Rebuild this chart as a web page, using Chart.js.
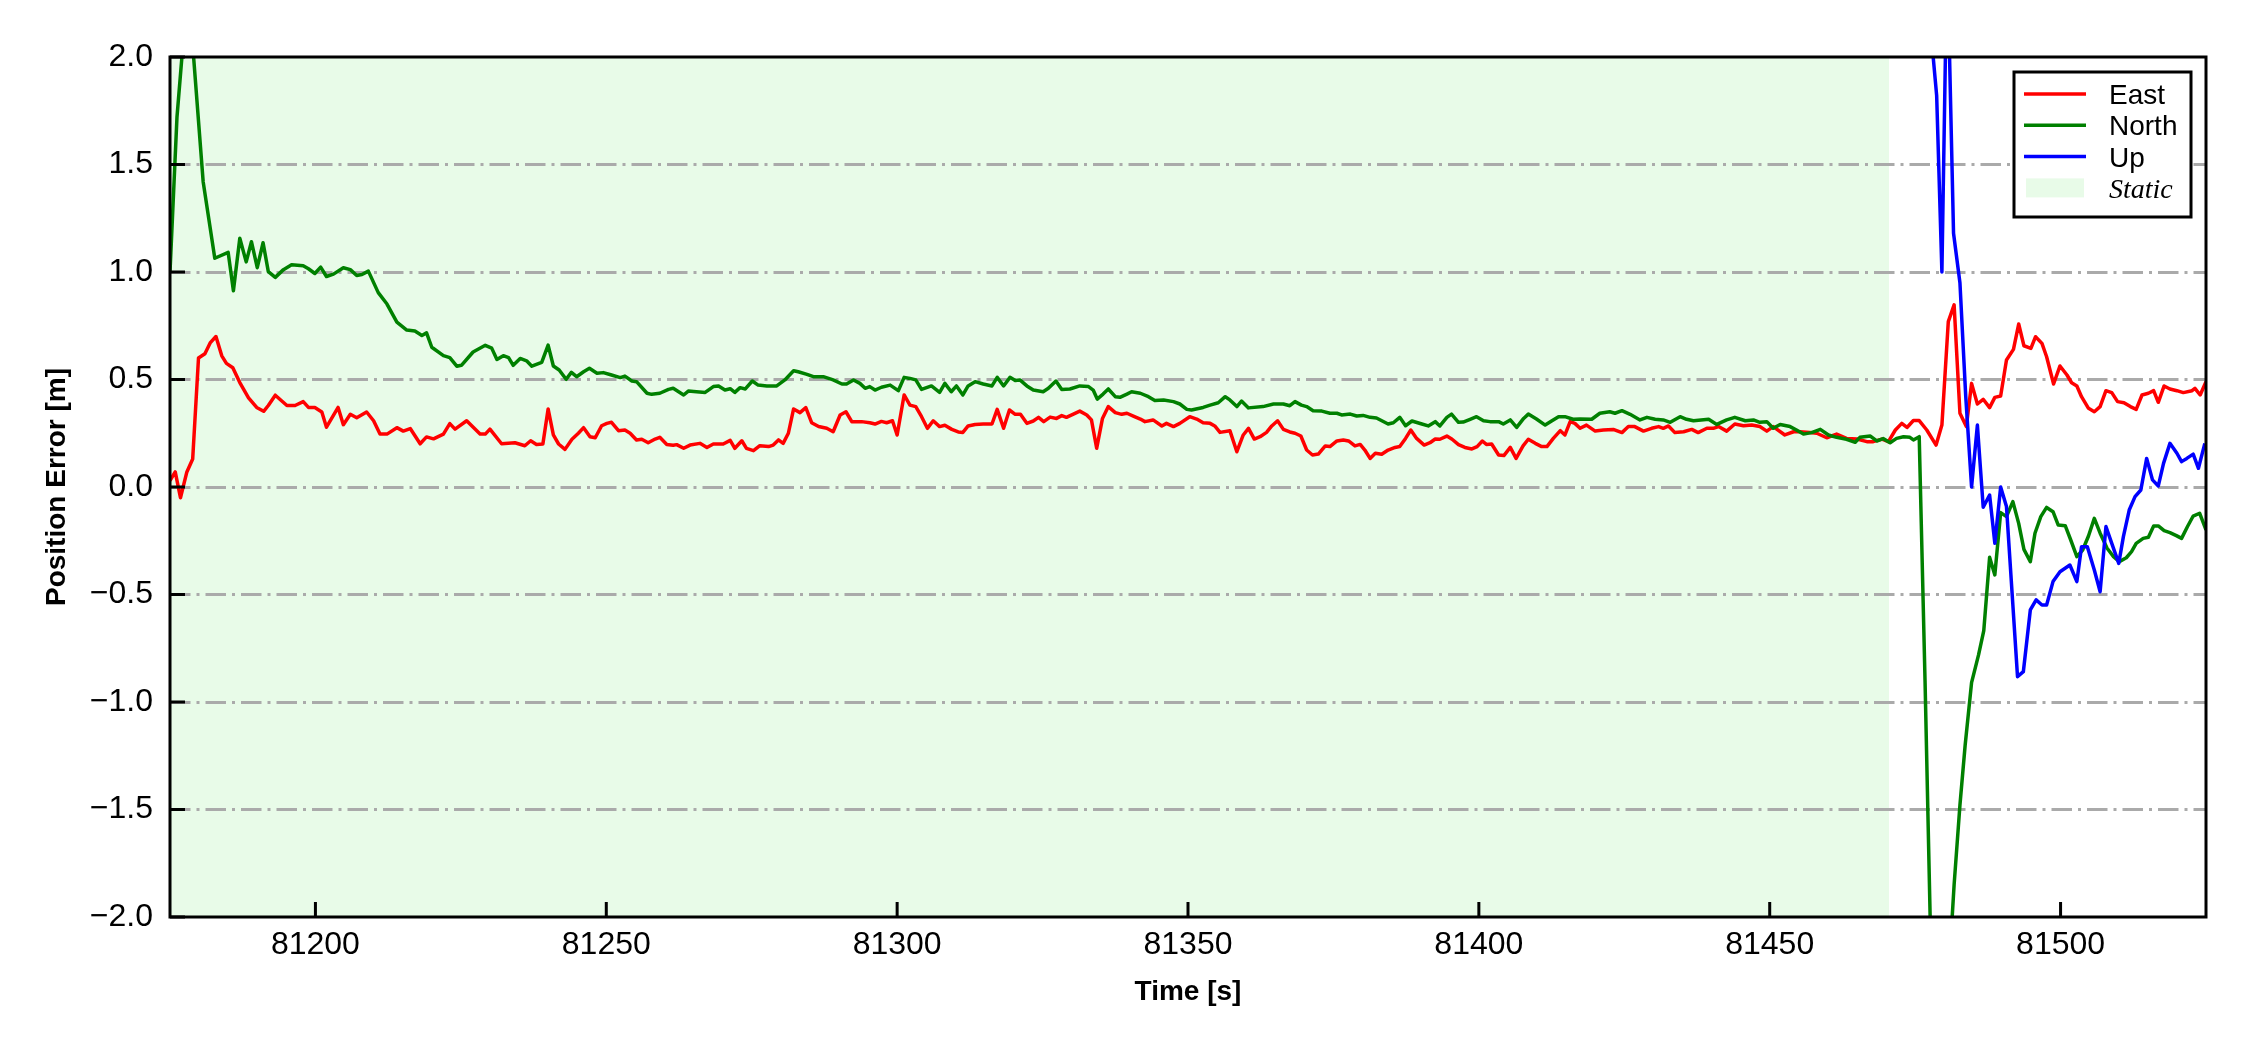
<!DOCTYPE html>
<html>
<head>
<meta charset="utf-8">
<script src="https://cdn.jsdelivr.net/npm/chart.js@4.4.1/dist/chart.umd.min.js"></script>
<style>
  html, body { margin: 0; padding: 0; background: #fff; }
  canvas { display: block; }
</style>
</head>
<body>
<canvas id="errorChart" width="2250" height="1050"></canvas>
<script>
// position error per axis (time in s, error in m)
const eastTime = [
  81175.0, 81175.9, 81176.8, 81177.9, 81178.9, 81179.9, 81181.0, 81181.9, 81182.9, 81183.9,
  81184.7, 81185.8, 81187.0, 81188.5, 81189.9, 81191.1, 81191.9, 81193.1, 81195.1, 81196.5,
  81197.9, 81198.8, 81199.9, 81201.1, 81201.9, 81203.9, 81204.8, 81206.0, 81207.1, 81208.8,
  81210.0, 81211.1, 81212.3, 81214.0, 81215.1, 81216.3, 81218.0, 81219.1, 81220.3, 81222.0,
  81223.1, 81224.0, 81226.0, 81228.3, 81229.2, 81230.0, 81232.0, 81234.3, 81236.0, 81237.0,
  81238.0, 81239.1, 81240.0, 81240.9, 81241.8, 81242.9, 81244.1, 81245.2, 81246.1, 81247.2,
  81248.1, 81249.2, 81250.1, 81250.9, 81252.1, 81253.2, 81254.1, 81255.2, 81256.1, 81257.2,
  81258.4, 81259.2, 81260.4, 81261.5, 81262.1, 81263.3, 81264.4, 81266.1, 81267.3, 81268.4,
  81270.1, 81271.3, 81272.1, 81273.3, 81274.1, 81275.3, 81276.4, 81277.9, 81278.7, 81279.6,
  81280.4, 81281.3, 81282.2, 81283.3, 81284.3, 81285.3, 81286.5, 81287.9, 81289.0, 81290.2,
  81291.2, 81292.2, 81293.9, 81295.3, 81296.2, 81297.3, 81298.2, 81299.2, 81300.0, 81301.2,
  81302.2, 81303.2, 81304.2, 81305.2, 81306.2, 81307.3, 81308.2, 81309.4, 81310.5, 81311.3,
  81312.2, 81313.4, 81314.8, 81316.3, 81317.2, 81318.3, 81319.3, 81320.3, 81321.2, 81322.3,
  81323.4, 81324.3, 81325.2, 81326.3, 81327.4, 81328.3, 81329.1, 81330.3, 81331.4, 81332.6,
  81333.4, 81334.3, 81335.3, 81336.3, 81337.5, 81338.6, 81339.5, 81340.6, 81341.8, 81342.6,
  81344.0, 81345.5, 81346.3, 81347.5, 81348.6, 81350.3, 81351.5, 81352.6, 81353.8, 81354.6,
  81355.5, 81357.2, 81358.4, 81359.5, 81360.4, 81361.4, 81362.4, 81363.5, 81364.4, 81365.4,
  81366.4, 81367.5, 81368.4, 81369.4, 81370.4, 81371.4, 81372.4, 81373.6, 81374.4, 81375.6,
  81376.7, 81377.6, 81378.7, 81379.6, 81380.4, 81381.3, 81382.2, 81383.3, 81384.4, 81385.6,
  81386.4, 81387.4, 81388.3, 81389.3, 81390.6, 81391.6, 81392.5, 81393.3, 81394.5, 81395.4,
  81396.5, 81397.6, 81398.8, 81399.7, 81400.6, 81401.3, 81402.2, 81403.4, 81404.3, 81405.4,
  81406.4, 81407.6, 81408.5, 81409.7, 81410.8, 81411.7, 81412.8, 81414.0, 81414.8, 81415.7,
  81416.5, 81417.4, 81418.5, 81420.0, 81421.4, 81423.1, 81424.6, 81425.7, 81426.8, 81428.3,
  81429.7, 81430.9, 81431.7, 81432.6, 81433.7, 81435.2, 81436.6, 81437.7, 81439.2, 81440.3,
  81441.2, 81442.6, 81444.0, 81445.5, 81446.9, 81448.3, 81449.5, 81450.6, 81452.6, 81454.1,
  81455.2, 81456.9, 81458.1, 81459.8, 81461.5, 81463.2, 81465.0, 81466.7, 81467.8, 81469.3,
  81470.4, 81471.6, 81472.7, 81473.6, 81474.7, 81475.7, 81477.0, 81478.6, 81479.6, 81480.7,
  81481.7, 81482.7, 81483.8, 81484.7, 81485.7, 81486.7, 81487.8, 81488.7, 81489.7, 81490.7,
  81491.9, 81492.8, 81493.7, 81494.9, 81495.7, 81496.8, 81497.6, 81498.8, 81499.9, 81501.1,
  81501.9, 81502.8, 81503.6, 81504.8, 81505.8, 81506.8, 81507.8, 81508.8, 81509.8, 81510.9,
  81512.0, 81513.0, 81514.0, 81515.1, 81516.0, 81516.8, 81517.8, 81518.8, 81520.0, 81521.1,
  81522.6, 81523.1, 81524.0, 81525.0
];
const eastError = [
  0.03, 0.07, -0.05, 0.07, 0.13, 0.60, 0.62, 0.67, 0.70, 0.61,
  0.575, 0.555, 0.486, 0.415, 0.370, 0.352, 0.379, 0.427, 0.379, 0.379,
  0.397, 0.370, 0.370, 0.349, 0.278, 0.370, 0.290, 0.338, 0.322, 0.349,
  0.308, 0.246, 0.246, 0.276, 0.260, 0.272, 0.201, 0.233, 0.224, 0.246,
  0.295, 0.269, 0.308, 0.246, 0.246, 0.269, 0.201, 0.206, 0.192, 0.215,
  0.198, 0.200, 0.363, 0.242, 0.200, 0.175, 0.222, 0.250, 0.276, 0.234,
  0.229, 0.285, 0.296, 0.301, 0.262, 0.265, 0.250, 0.219, 0.222, 0.206,
  0.223, 0.231, 0.198, 0.194, 0.197, 0.180, 0.195, 0.203, 0.184, 0.200,
  0.200, 0.217, 0.180, 0.215, 0.180, 0.169, 0.192, 0.188, 0.195, 0.219,
  0.203, 0.250, 0.363, 0.346, 0.369, 0.299, 0.281, 0.273, 0.257, 0.335,
  0.350, 0.304, 0.304, 0.299, 0.293, 0.305, 0.299, 0.308, 0.242, 0.428,
  0.381, 0.374, 0.327, 0.273, 0.308, 0.281, 0.287, 0.268, 0.256, 0.254,
  0.284, 0.291, 0.293, 0.293, 0.361, 0.273, 0.358, 0.338, 0.338, 0.296,
  0.307, 0.324, 0.304, 0.325, 0.319, 0.332, 0.324, 0.339, 0.353, 0.335,
  0.312, 0.180, 0.319, 0.374, 0.346, 0.338, 0.343, 0.330, 0.316, 0.304,
  0.312, 0.284, 0.296, 0.281, 0.296, 0.327, 0.316, 0.299, 0.296, 0.284,
  0.254, 0.262, 0.164, 0.242, 0.273, 0.223, 0.234, 0.254, 0.284, 0.308,
  0.268, 0.256, 0.250, 0.237, 0.172, 0.149, 0.153, 0.191, 0.188, 0.214,
  0.219, 0.214, 0.191, 0.198, 0.172, 0.133, 0.157, 0.152, 0.172, 0.184,
  0.188, 0.226, 0.265, 0.226, 0.195, 0.206, 0.223, 0.222, 0.237, 0.222,
  0.197, 0.184, 0.177, 0.188, 0.214, 0.198, 0.200, 0.149, 0.146, 0.184,
  0.133, 0.191, 0.222, 0.203, 0.188, 0.188, 0.226, 0.262, 0.242, 0.304,
  0.296, 0.273, 0.288, 0.260, 0.265, 0.268, 0.253, 0.281, 0.281, 0.260,
  0.273, 0.281, 0.273, 0.284, 0.253, 0.257, 0.268, 0.253, 0.273, 0.273,
  0.281, 0.260, 0.293, 0.285, 0.288, 0.281, 0.260, 0.281, 0.242, 0.257,
  0.257, 0.254, 0.250, 0.229, 0.246, 0.226, 0.223, 0.211, 0.211, 0.223,
  0.211, 0.265, 0.296, 0.277, 0.309, 0.309, 0.265, 0.195, 0.288, 0.769,
  0.847, 0.343, 0.281, 0.482, 0.386, 0.408, 0.369, 0.417, 0.423, 0.591,
  0.640, 0.758, 0.657, 0.645, 0.699, 0.668, 0.606, 0.479, 0.563, 0.521,
  0.485, 0.470, 0.420, 0.366, 0.350, 0.374, 0.448, 0.439, 0.397, 0.392,
  0.374, 0.361, 0.428, 0.436, 0.448, 0.394, 0.470, 0.456, 0.448, 0.439,
  0.448, 0.459, 0.428, 0.490
];

const northTime = [
  81175.0, 81176.2, 81177.2, 81178.2, 81179.0, 81180.7, 81182.7, 81185.0, 81185.9, 81187.0,
  81188.1, 81189.0, 81190.0, 81191.0, 81191.9, 81193.1, 81194.5, 81195.9, 81197.9, 81198.8,
  81199.9, 81200.9, 81201.9, 81203.1, 81204.8, 81206.0, 81207.1, 81208.0, 81209.1, 81210.8,
  81212.3, 81214.0, 81215.7, 81217.1, 81218.3, 81219.1, 81220.0, 81222.0, 81223.1, 81224.3,
  81225.1, 81227.1, 81229.2, 81230.3, 81231.2, 81232.3, 81233.2, 81234.0, 81235.2, 81236.3,
  81237.2, 81238.9, 81240.0, 81240.9, 81241.9, 81243.1, 81244.0, 81244.9, 81246.1, 81247.1,
  81248.4, 81249.5, 81250.9, 81252.4, 81253.2, 81254.4, 81255.2, 81257.0, 81257.8, 81259.2,
  81260.7, 81261.5, 81263.3, 81264.1, 81265.5, 81267.0, 81268.4, 81269.3, 81270.4, 81271.3,
  81272.1, 81273.0, 81273.9, 81275.1, 81276.1, 81277.6, 81279.3, 81280.7, 81282.2, 81283.0,
  81284.5, 81285.6, 81287.3, 81289.0, 81290.5, 81291.3, 81292.5, 81293.6, 81294.5, 81295.3,
  81296.2, 81297.3, 81298.8, 81300.2, 81301.2, 81302.2, 81303.2, 81304.2, 81305.9, 81307.3,
  81308.2, 81309.3, 81310.2, 81311.3, 81312.2, 81313.4, 81314.8, 81316.3, 81317.2, 81318.3,
  81319.4, 81320.3, 81321.1, 81322.3, 81323.4, 81325.1, 81326.0, 81327.3, 81328.3, 81329.7,
  81331.4, 81332.9, 81333.7, 81334.4, 81335.4, 81336.3, 81337.5, 81338.3, 81339.5, 81340.3,
  81341.8, 81343.2, 81344.3, 81345.8, 81347.5, 81348.6, 81349.8, 81350.6, 81352.6, 81353.8,
  81355.2, 81356.4, 81357.2, 81358.4, 81359.2, 81360.4, 81362.9, 81364.7, 81366.4, 81367.5,
  81368.4, 81369.5, 81370.4, 81371.5, 81373.0, 81374.4, 81375.6, 81376.4, 81377.9, 81379.0,
  81380.1, 81381.3, 81382.4, 81384.4, 81385.3, 81386.4, 81387.4, 81388.5, 81390.2, 81391.3,
  81392.5, 81393.3, 81394.5, 81395.3, 81396.5, 81397.3, 81398.5, 81399.6, 81400.8, 81401.9,
  81403.4, 81404.2, 81405.4, 81406.5, 81407.7, 81408.5, 81409.9, 81411.4, 81412.5, 81413.7,
  81414.8, 81416.2, 81417.4, 81419.4, 81420.8, 81422.5, 81423.4, 81424.6, 81426.0, 81427.7,
  81428.9, 81430.3, 81431.7, 81432.9, 81434.6, 81435.7, 81436.9, 81439.5, 81440.9, 81442.6,
  81444.0, 81445.8, 81447.2, 81448.3, 81449.5, 81450.6, 81451.8, 81453.5, 81454.6, 81455.8,
  81457.2, 81458.7, 81460.1, 81461.5, 81463.2, 81464.7, 81465.5, 81467.3, 81468.4, 81469.5,
  81470.7, 81471.8, 81473.0, 81474.1, 81474.7, 81475.7, 81476.7, 81477.7, 81478.7, 81479.7,
  81480.7, 81481.7, 81482.7, 81483.6, 81484.7, 81485.9, 81486.8, 81487.8, 81488.7, 81489.7,
  81490.7, 81491.8, 81492.8, 81493.7, 81494.8, 81495.6, 81496.6, 81497.6, 81498.7, 81499.6,
  81500.8, 81501.7, 81502.8, 81503.8, 81504.8, 81505.8, 81506.8, 81508.0, 81509.1, 81510.1,
  81511.3, 81512.2, 81513.0, 81514.2, 81515.1, 81516.0, 81516.8, 81517.8, 81518.8, 81519.9,
  81520.8, 81521.8, 81522.8, 81523.9, 81525.0
];
const northError = [
  1.00, 1.72, 2.05, 2.40, 2.02, 1.42, 1.064, 1.091, 0.913, 1.157,
  1.047, 1.141, 1.020, 1.136, 1.002, 0.975, 1.011, 1.034, 1.029, 1.015,
  0.993, 1.023, 0.979, 0.990, 1.020, 1.011, 0.984, 0.988, 1.004, 0.904,
  0.851, 0.767, 0.730, 0.726, 0.705, 0.717, 0.650, 0.611, 0.602, 0.562,
  0.566, 0.628, 0.659, 0.646, 0.593, 0.611, 0.602, 0.566, 0.598, 0.587,
  0.562, 0.580, 0.660, 0.563, 0.544, 0.501, 0.533, 0.513, 0.536, 0.552,
  0.529, 0.532, 0.521, 0.509, 0.516, 0.493, 0.490, 0.436, 0.431, 0.436,
  0.454, 0.459, 0.428, 0.446, 0.443, 0.440, 0.467, 0.470, 0.451, 0.457,
  0.440, 0.462, 0.456, 0.493, 0.474, 0.470, 0.470, 0.498, 0.541, 0.536,
  0.524, 0.513, 0.513, 0.498, 0.479, 0.479, 0.498, 0.482, 0.459, 0.467,
  0.451, 0.464, 0.474, 0.448, 0.510, 0.505, 0.498, 0.454, 0.470, 0.440,
  0.482, 0.443, 0.470, 0.428, 0.470, 0.490, 0.479, 0.470, 0.510, 0.470,
  0.510, 0.495, 0.498, 0.470, 0.451, 0.443, 0.459, 0.493, 0.454, 0.456,
  0.470, 0.467, 0.451, 0.409, 0.432, 0.456, 0.420, 0.417, 0.432, 0.443,
  0.436, 0.420, 0.402, 0.405, 0.397, 0.386, 0.361, 0.358, 0.370, 0.381,
  0.392, 0.420, 0.405, 0.374, 0.400, 0.368, 0.374, 0.386, 0.386, 0.378,
  0.397, 0.381, 0.374, 0.355, 0.353, 0.343, 0.343, 0.335, 0.339, 0.330,
  0.333, 0.324, 0.321, 0.293, 0.299, 0.324, 0.285, 0.307, 0.293, 0.284,
  0.304, 0.284, 0.324, 0.339, 0.301, 0.302, 0.315, 0.327, 0.308, 0.304,
  0.304, 0.293, 0.312, 0.277, 0.319, 0.339, 0.316, 0.288, 0.307, 0.327,
  0.327, 0.315, 0.316, 0.315, 0.343, 0.350, 0.343, 0.355, 0.338, 0.312,
  0.324, 0.315, 0.312, 0.301, 0.327, 0.315, 0.308, 0.315, 0.291, 0.312,
  0.324, 0.308, 0.312, 0.301, 0.304, 0.273, 0.291, 0.281, 0.265, 0.246,
  0.253, 0.268, 0.242, 0.231, 0.222, 0.208, 0.231, 0.237, 0.214, 0.225,
  0.206, 0.226, 0.234, 0.231, 0.219, 0.234, -0.90, -2.15, -3.00, -2.90,
  -2.30, -1.85, -1.48, -1.20, -0.91, -0.781, -0.668, -0.327, -0.409, -0.119,
  -0.138, -0.068, -0.169, -0.290, -0.347, -0.215, -0.138, -0.095, -0.115, -0.177,
  -0.180, -0.243, -0.324, -0.293, -0.228, -0.146, -0.215, -0.285, -0.324, -0.347,
  -0.329, -0.301, -0.262, -0.239, -0.234, -0.181, -0.181, -0.203, -0.212, -0.226,
  -0.239, -0.185, -0.135, -0.122, -0.200
];

const upTime = [
  81476.7, 81477.7, 81478.7, 81479.6, 81480.5, 81481.6, 81482.7, 81483.7, 81484.7, 81485.7,
  81486.7, 81487.8, 81488.7, 81489.7, 81490.7, 81492.6, 81493.6, 81494.8, 81495.8, 81496.8,
  81497.6, 81498.7, 81499.9, 81501.6, 81502.8, 81503.6, 81504.6, 81505.8, 81506.8, 81507.8,
  81508.8, 81510.0, 81510.8, 81511.8, 81512.8, 81513.8, 81514.8, 81515.8, 81516.8, 81517.7,
  81518.8, 81520.0, 81520.8, 81521.7, 81522.8, 81523.7, 81524.8
];
const upError = [
  3.50, 2.12, 1.82, 1.00, 2.50, 1.18, 0.95, 0.42, 0.00, 0.288,
  -0.094, -0.037, -0.262, 0.000, -0.091, -0.882, -0.859, -0.572, -0.525, -0.549,
  -0.549, -0.440, -0.394, -0.363, -0.440, -0.278, -0.278, -0.386, -0.487, -0.184,
  -0.262, -0.355, -0.231, -0.107, -0.045, -0.014, 0.133, 0.033, 0.005, 0.110,
  0.203, 0.157, 0.118, 0.133, 0.153, 0.087, 0.203
];

const xTicks = [81200, 81250, 81300, 81350, 81400, 81450, 81500];
const yTicks = [-2, -1.5, -1, -0.5, 0, 0.5, 1, 1.5, 2];
const staticStart = 81175;
const staticEnd = 81470.5;

const SANS = "'Liberation Sans', Arial, sans-serif";
const SERIF = "'Liberation Serif', 'Times New Roman', serif";
const STATIC_FILL = '#e8fbe8';

function toPoints(times, values) {
    return times.map((t, i) => ({ x: t, y: values[i] }));
}

// light green band for the static period, under the grid
const staticBand = {
    id: 'staticBand',
    beforeDraw(chart) {
        const { ctx, chartArea: a, scales: { x } } = chart;
        const x0 = Math.max(a.left, x.getPixelForValue(staticStart));
        const x1 = x.getPixelForValue(staticEnd);
        ctx.save();
        ctx.fillStyle = STATIC_FILL;
        ctx.fillRect(x0, a.top, x1 - x0, a.bottom - a.top);
        ctx.restore();
    },
};

// inward ticks and black frame, matplotlib style
const frameAndTicks = {
    id: 'frameAndTicks',
    afterDatasetsDraw(chart) {
        const { ctx, chartArea: a, scales: { x, y } } = chart;
        ctx.save();
        ctx.strokeStyle = '#000';
        ctx.lineWidth = 3;
        ctx.beginPath();
        yTicks.forEach(v => {
            const py = y.getPixelForValue(v);
            ctx.moveTo(a.left, py);
            ctx.lineTo(a.left + 15, py);
        });
        xTicks.forEach(v => {
            const px = x.getPixelForValue(v);
            ctx.moveTo(px, a.bottom);
            ctx.lineTo(px, a.bottom - 15);
        });
        ctx.stroke();
        ctx.strokeRect(a.left, a.top, a.right - a.left, a.bottom - a.top);
        ctx.restore();
    },
};

const boxLegend = {
    id: 'boxLegend',
    afterDraw(chart) {
        const { ctx, chartArea: a } = chart;
        const right = a.right - 15, top = a.top + 15;
        const left = right - 177, bottom = top + 145;
        ctx.save();
        ctx.fillStyle = '#fff';
        ctx.fillRect(left, top, right - left, bottom - top);
        ctx.strokeStyle = '#000';
        ctx.lineWidth = 3;
        ctx.strokeRect(left, top, right - left, bottom - top);

        const lineX0 = left + 10, lineX1 = left + 72, textX = left + 95;
        ctx.textBaseline = 'alphabetic';
        ctx.textAlign = 'left';
        chart.data.datasets.forEach((ds, i) => {
            const cy = top + 22 + i * 31.3;
            ctx.strokeStyle = ds.borderColor;
            ctx.lineWidth = 3.5;
            ctx.beginPath();
            ctx.moveTo(lineX0, cy);
            ctx.lineTo(lineX1, cy);
            ctx.stroke();
            ctx.fillStyle = '#000';
            ctx.font = `28px ${SANS}`;
            ctx.fillText(ds.label, textX, cy + 10);
        });
        const sy = top + 22 + 3 * 31.3;
        ctx.fillStyle = STATIC_FILL;
        ctx.fillRect(lineX0 + 2, sy - 9.5, 58, 19);
        ctx.fillStyle = '#000';
        ctx.font = `italic 28px ${SERIF}`;
        ctx.fillText('Static', textX, sy + 10);
        ctx.restore();
    },
};

new Chart(document.getElementById('errorChart'), {
    type: 'line',
    data: {
        datasets: [
            { label: 'East', data: toPoints(eastTime, eastError), borderColor: '#ff0000', order: 3 },
            { label: 'North', data: toPoints(northTime, northError), borderColor: '#008000', order: 2 },
            { label: 'Up', data: toPoints(upTime, upError), borderColor: '#0000ff', order: 1 },
        ],
    },
    options: {
        responsive: false,
        animation: false,
        devicePixelRatio: 1,
        parsing: false,
        layout: { padding: { top: 57, right: 44, bottom: 0, left: 0 } },
        elements: {
            point: { radius: 0 },
            line: { tension: 0, borderWidth: 3.5, borderJoinStyle: 'round', fill: false },
        },
        plugins: { legend: { display: false }, tooltip: { enabled: false } },
        scales: {
            x: {
                type: 'linear',
                min: 81175,
                max: 81525,
                afterBuildTicks: s => { s.ticks = xTicks.map(v => ({ value: v })); },
                afterFit: s => { s.height = 133; },
                grid: { display: false, drawTicks: false },
                border: { display: false },
                ticks: {
                    color: '#000',
                    font: { family: SANS, size: 32 },
                    padding: 9,
                    maxRotation: 0,
                    autoSkip: false,
                    callback: v => String(v),
                },
                title: {
                    display: true,
                    text: 'Time [s]',
                    color: '#000',
                    font: { family: SANS, size: 28, weight: 'bold' },
                    padding: { top: 0, bottom: 41 },
                },
            },
            y: {
                type: 'linear',
                min: -2,
                max: 2,
                afterBuildTicks: s => { s.ticks = yTicks.map(v => ({ value: v })); },
                afterFit: s => { s.width = 170; },
                grid: {
                    drawTicks: false,
                    lineWidth: 3,
                    color: c => (c.tick && Math.abs(c.tick.value) === 2) ? 'rgba(0,0,0,0)' : '#aaaaaa',
                },
                border: { display: false, dash: [20.5, 6, 3, 6] },
                ticks: {
                    color: '#000',
                    font: { family: SANS, size: 32 },
                    padding: 17,
                    autoSkip: false,
                    callback: v => Number(v).toFixed(1).replace('-', '\u2212'),
                },
                title: {
                    display: true,
                    text: 'Position Error [m]',
                    color: '#000',
                    font: { family: SANS, size: 28, weight: 'bold' },
                    padding: { top: 40, bottom: 0 },
                },
            },
        },
    },
    plugins: [staticBand, frameAndTicks, boxLegend],
});
</script>
</body>
</html>
